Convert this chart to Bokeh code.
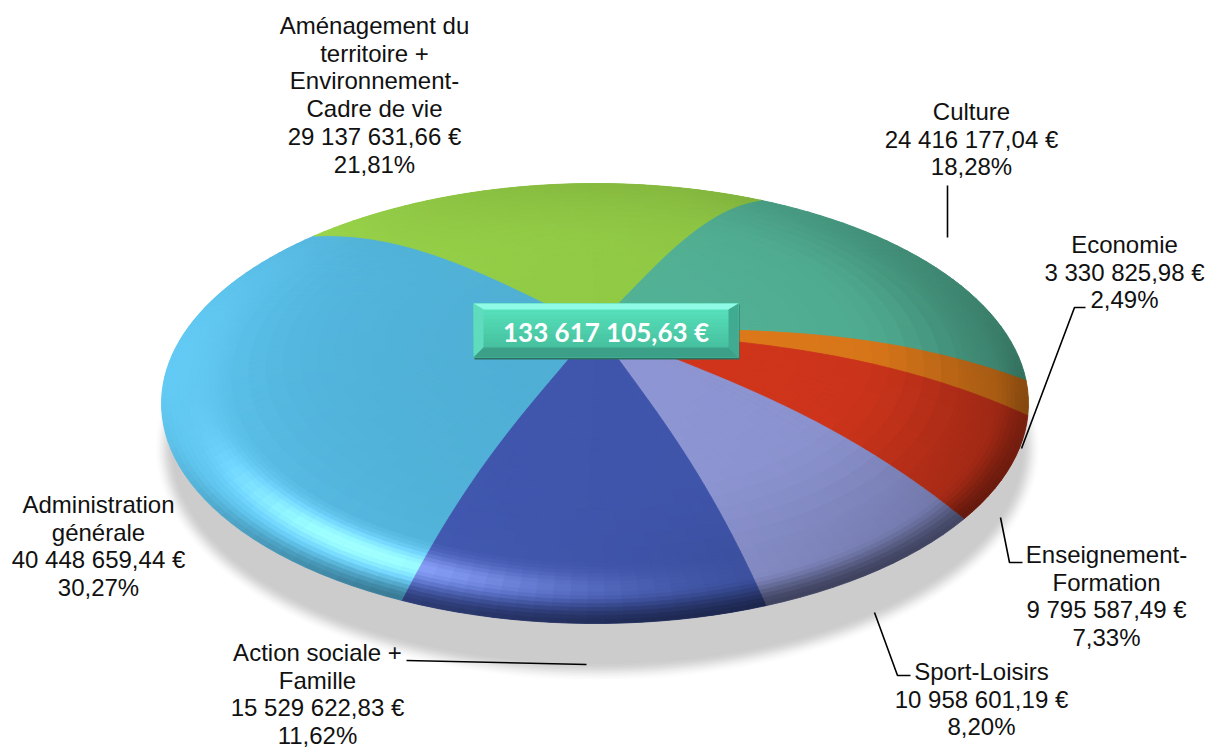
import math
import numpy as np
from bokeh.core.properties import value
from bokeh.embed import file_html
from bokeh.models import ColumnDataSource, Range1d
from bokeh.plotting import figure
from bokeh.resources import INLINE

# ---------- data ----------
categories = ["Culture", "Economie", "Enseignement-Formation", "Sport-Loisirs",
              "Action sociale + Famille", "Administration générale",
              "Aménagement du territoire + Environnement-Cadre de vie"]
amounts = [24416177.04, 3330825.98, 9795587.49, 10958601.19,
           15529622.83, 40448659.44, 29137631.66]
percents = ["18,28%", "2,49%", "7,33%", "8,20%", "11,62%", "30,27%", "21,81%"]
name_lines = [["Culture"], ["Economie"], ["Enseignement-", "Formation"], ["Sport-Loisirs"],
              ["Action sociale +", "Famille"], ["Administration", "générale"],
              ["Aménagement du", "territoire +", "Environnement-", "Cadre de vie"]]
total_label = "133 617 105,63 €"

# ---------- style / layout ----------
colors = [(83, 178, 150), (224, 122, 26), (210, 54, 28), (142, 150, 212),
          (64, 86, 172), (80, 175, 213), (146, 203, 70)]
label_x = [971, 1124, 1106, 981, 317, 98, 374]
label_y0 = [111, 244, 554, 671, 652, 504, 25]
label_step = 27.7
leaders = [([947, 947], [185, 237]),
           ([1085, 1074, 1021], [307, 307, 448]),
           ([1000, 1009, 1022], [517, 562, 562]),
           ([874, 897, 910], [612, 675, 675]),
           ([406, 586], [660, 664])]
CX, CY, RA, RB, K = 594.5, 403.0, 433.5, 220.0, -0.355
DOME = 105.0
START, WARP, PHASE, WARP2, WARP3 = 29.5, 8.5, 22.0, 1.5, 1.2
RADII = [i * .04 for i in range(21)] + [.84 + i * .01 for i in range(17)]


def project(t, phi):
    a = math.radians(phi)
    X, Y = math.sin(a), -math.cos(a)
    d = 1 + K * Y
    rx = CX + RA * X * math.sqrt(1 - K * K) / d
    ry = CY + RB * (Y + K) / d
    ax, ay = CX, CY + RB * K
    return ax + (rx - ax) * t, ay + (ry - ay) * t - DOME * t ** 1.5 * (1 - t)


def warp(cum_deg):
    return (START + cum_deg + WARP * math.sin(math.radians(cum_deg + PHASE))
            - WARP2 * math.sin(math.radians(2 * (cum_deg - 100)))
            + WARP3 * math.sin(math.radians(3 * (cum_deg - 95))) * math.exp(-((cum_deg - 140) / 45) ** 2))


def sstep(a, b, x):
    s = max(0.0, min(1.0, (x - a) / (b - a)))
    return s * s * (3 - 2 * s)


def angdiff(a, b):
    return (a - b + 180) % 360 - 180


def shade(base, r, phi):
    a = math.radians(phi)
    X = math.sin(a)
    f = 1 - 0.10 * X * r * r
    f *= 1 - 0.20 * sstep(.60, 1, r) * max(0, math.cos(math.radians(phi - 105))) ** 1.5
    f *= 1 - 0.08 * sstep(.40, 1, r) * max(0, math.cos(math.radians(phi - 345))) ** 2
    narrow = sstep(165, 250, phi % 360)
    f *= 1 - 0.50 * sstep(.92 + .05 * narrow, 1, r) * max(0, math.cos(math.radians(phi - 165))) ** 2
    hi = 76 * math.exp(-((r - .91) / .04) ** 2) * math.exp(-(angdiff(phi, 205) / 22) ** 2)
    hi += 12 * math.exp(-((r - .95) / .14) ** 2) * math.exp(-(angdiff(phi, 255) / 45) ** 2)
    c = [min(255, max(0, v * f + hi)) for v in base]
    return "#%02x%02x%02x" % tuple(int(v) for v in c)


fig = figure(width=1207, height=751, output_backend="svg", toolbar_location=None,
             x_range=Range1d(0, 1207), y_range=Range1d(751, 0), min_border=0,
             background_fill_color="white", border_fill_color="white", outline_line_color=None)
fig.axis.visible = False
fig.grid.visible = False

# ---------- soft shadow ----------
rings = 14
for i in range(rings):
    s = i / (rings - 1)
    g = int(255 - (255 - 204) * s * s * (3 - 2 * s))
    grow = 20 * (1 - s)
    fig.ellipse(x=597, y=447, width=2 * (424 + grow), height=2 * (215 + grow),
                fill_color="#%02x%02x%02x" % (g, g, g), line_color=None)

# ---------- slices ----------
total = sum(amounts)
cum = 0.0
qx, qy, qc = [], [], []
for val, base in zip(amounts, colors):
    sweep = val / total * 360
    n = max(3, int(sweep / 2.0))
    phis = [warp(cum + sweep * j / n) for j in range(n + 1)]
    ox = [project(1, p)[0] for p in phis] + [project(0, 0)[0]]
    oy = [project(1, p)[1] for p in phis] + [project(0, 0)[1]]
    fig.patch(ox, oy, fill_color="#%02x%02x%02x" % base, line_color=None)
    for j in range(n):
        p0, p1 = phis[j], phis[j + 1]
        for r0, r1 in zip(RADII[:-1], RADII[1:]):
            pts = [project(r0, p0), project(r1, p0), project(r1, p1), project(r0, p1)]
            qx.append([q[0] for q in pts])
            qy.append([q[1] for q in pts])
            qc.append(shade(base, (r0 + r1) / 2, (p0 + p1) / 2))
    cum += sweep
fig.patches("x", "y", source=ColumnDataSource(dict(x=qx, y=qy, c=qc)),
            fill_color="c", line_color="c", line_width=0.8)

# ---------- leaders ----------
for lx, ly in leaders:
    fig.line(lx, ly, line_color="black", line_width=1.6)

# ---------- labels ----------
for names, amt, pct, x0, y0 in zip(name_lines, amounts, percents, label_x, label_y0):
    txt = f"{amt:,.2f}".replace(",", " ").replace(".", ",") + " €"
    lines = names + [txt, pct]
    fig.text(x=[x0] * len(lines), y=[y0 + label_step * i for i in range(len(lines))], text=lines,
             text_font=value("Liberation Sans"), text_font_size="24px", text_color="#111111",
             text_align="center", text_baseline="middle")

# ---------- centre box ----------
BL, BR, BT, BB, BV = 473.0, 738.0, 303.0, 357.0, 10.0
fig.quad(left=BL + 1, right=BR + 1, top=BT + 1, bottom=BB + 2, fill_color="#2c6f60", line_color=None)
fig.quad(left=BL, right=BR, top=BT, bottom=BB, fill_color="#45c9a6", line_color=None)
strips = 14
for i in range(strips):
    s = i / strips
    c = (int(88 - 22 * s), int(228 - 46 * s), int(190 - 40 * s))
    yy0, yy1 = BT + (BB - BT) * s, BT + (BB - BT) * (s + 1 / strips)
    fig.quad(left=BL, right=BR, top=yy0, bottom=yy1 + .5, fill_color="#%02x%02x%02x" % c, line_color=None)
fig.patch([BL, BR, BR - BV, BL + BV], [BT, BT, BT + 6, BT + 6], fill_color="#8ffbe6", line_color=None)
fig.patch([BL, BL + BV, BL + BV, BL], [BT, BT + 6, BB - 10, BB], fill_color="#5fdcbd", line_color=None)
fig.patch([BR, BR - BV, BR - BV, BR], [BT, BT + 6, BB - 10, BB], fill_color="#40ab91", line_color=None)
fig.patch([BL, BR, BR - BV, BL + BV], [BB, BB, BB - 10, BB - 10], fill_color="#3c9f87", line_color=None)
fig.text(x=[(BL + BR) / 2], y=[(BT + BB) / 2 + 1], text=[total_label],
         text_font=value("Lato"), text_font_style="bold", text_font_size="26px", text_color="white",
         text_align="center", text_baseline="middle")

open("out.html", "w").write(file_html(fig, INLINE))
